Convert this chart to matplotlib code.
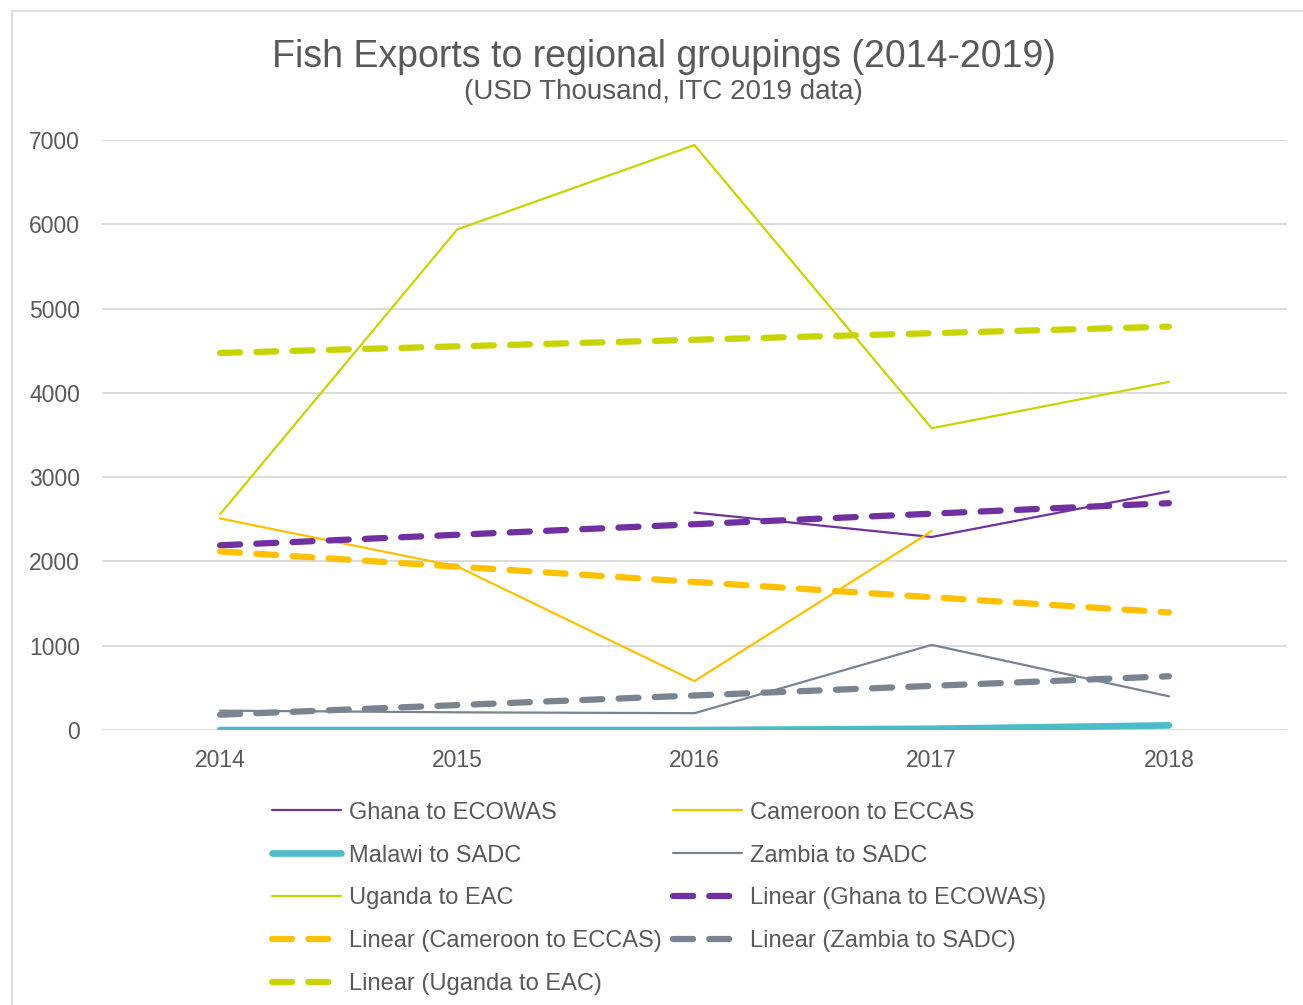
import numpy as np
import matplotlib.pyplot as plt
from matplotlib.patches import Rectangle

plt.rcParams['font.family'] = ['Liberation Sans', 'DejaVu Sans']

# data (USD thousand)
years = ['2014', '2015', '2016', '2017', '2018']
ghana = [np.nan, np.nan, 2580, 2290, 2830]
cameroon = [2510, 1940, 580, 2360, np.nan]
malawi = [0, 0, 0, 15, 55]
zambia = [230, 210, 200, 1010, 400]
uganda = [2560, 5940, 6940, 3580, 4130]

names = ['Ghana to ECOWAS', 'Cameroon to ECCAS', 'Malawi to SADC', 'Zambia to SADC', 'Uganda to EAC']
colors = ['#7030A0', '#FFC000', '#4BBCC8', '#7A8490', '#C8D400']
widths = [1.6, 1.6, 4.8, 1.6, 1.6]
trend_for = [0, 1, 3, 4]   # series that have a linear trendline

txt = '#595959'

fig = plt.figure(figsize=(13.03, 10.05), dpi=100)
ax = fig.add_axes([0.0779, 0.2736, 0.9102, 0.5871])

x = np.arange(len(years))
series = [ghana, cameroon, malawi, zambia, uganda]
lines = []
for s, name, c, w in zip(series, names, colors, widths):
    l, = ax.plot(x, s, color=c, lw=w, label=name, solid_capstyle='round', zorder=3)
    lines.append(l)

trends = []
for i in trend_for:
    y = np.array(series[i], dtype=float)
    ok = ~np.isnan(y)
    k, b = np.polyfit(x[ok], y[ok], 1)
    t, = ax.plot(x, k * x + b, color=colors[i], lw=4.5, dashes=(3.2, 2.6),
                 dash_capstyle='round', label='Linear (' + names[i] + ')', zorder=4)
    trends.append(t)

ax.set_xlim(-0.5, 4.5)
ax.set_ylim(0, 7000)
ax.set_yticks(range(0, 7001, 1000))
ax.set_xticks(x)
ax.set_xticklabels(years)
ax.grid(axis='y', color='#D9D9D9', lw=1.3)
ax.set_axisbelow(True)
for sp in ax.spines.values():
    sp.set_visible(False)
ax.tick_params(length=0, labelsize=16.5, colors=txt)
ax.tick_params(axis='x', pad=14)
ax.tick_params(axis='y', pad=15.5)

# legend in row order like the original
col1 = [lines[0], lines[2], lines[4], trends[1], trends[3]]
col2 = [lines[1], lines[3], trends[0], trends[2]]
handles = col1 + col2
leg = fig.legend(handles, [h.get_label() for h in handles], ncol=2, frameon=False,
                 loc='upper left', bbox_to_anchor=(0.1925, 0.2234), fontsize=17,
                 labelcolor=txt, handlelength=2.9, handletextpad=0.34,
                 columnspacing=0.5, labelspacing=0.88)

fig.text(0.5095, 0.943, 'Fish Exports to regional groupings (2014-2019)', ha='center',
         va='center', fontsize=27, color=txt)
fig.text(0.5095, 0.908, '(USD Thousand, ITC 2019 data)', ha='center', va='center',
         fontsize=20, color=txt)

fig.patches.append(Rectangle((12 / 1303, -0.1), 1.2, 1.1 - 12 / 1005 + 0.0005,
                             transform=fig.transFigure, fill=False,
                             edgecolor='#D9D9D9', lw=1.2))

fig.savefig('out.png', dpi=100)
